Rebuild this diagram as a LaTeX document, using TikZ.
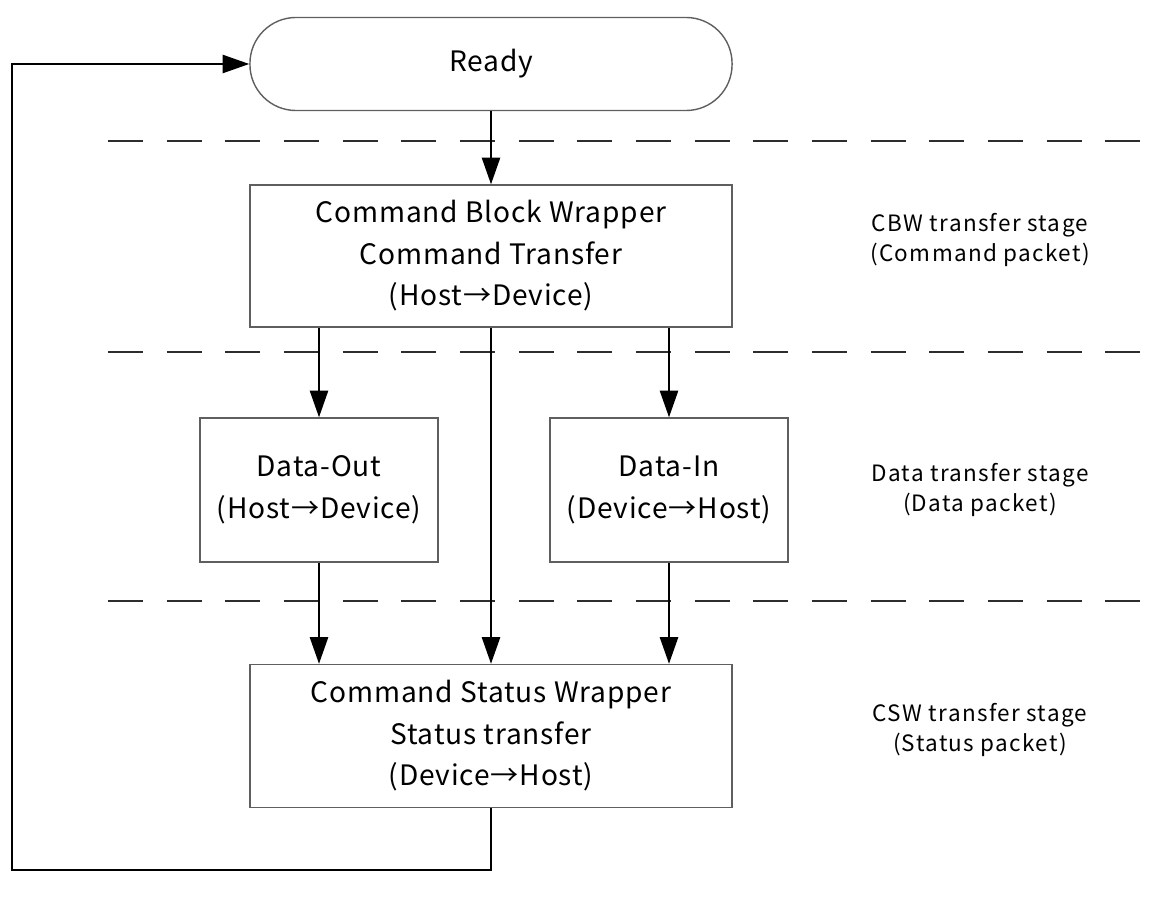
\documentclass[tikz,border=0pt]{standalone}
\usepackage{fontspec}
\setmainfont{Noto Sans CJK JP}
\usetikzlibrary{arrows.meta, positioning}
\definecolor{boxline}{RGB}{95, 95, 95}
\definecolor{stagedash}{RGB}{45, 45, 45}

\begin{document}
\begin{tikzpicture}[x=0.025cm, y=-0.025cm,
    >={Triangle[length=19pt, width=13pt]},
    stagebox/.style={draw=boxline, line width=1pt, align=center,
      inner sep=0pt,
      font=\fontsize{20}{29.5}\selectfont\addfontfeatures{LetterSpace=3}},
    stagenote/.style={align=center,
      font=\fontsize{16}{21.5}\selectfont\addfontfeatures{LetterSpace=6}},
    flow/.style={->, line width=1.3pt},
    stageline/.style={stagedash, line width=1.1pt,
      dash pattern=on 0.875cm off 0.591cm}]
  \useasboundingbox (0,0) rectangle (1154,905);
  % ── Stage separators ──
  \foreach \y in {141, 352, 601}
    \draw[stageline] (108,\y) -- (1140,\y);
  % ── Ready state ──
  \node[stagebox, rounded corners=1.15cm, minimum width=12.05cm,
        minimum height=2.325cm] (ready) at (491,64) {Ready};
  % ── CBW stage ──
  \node[stagebox, minimum width=12.05cm, minimum height=3.55cm]
    (cbw) at (491,256)
    {Command Block Wrapper\\Command Transfer\\(Host→Device)};
  \node[stagenote] (cbwnote) at (980,240)
    {CBW transfer stage\\(Command packet)};
  % ── Data stage ──
  \node[stagebox, minimum width=5.95cm, minimum height=3.6cm]
    (dout) at (319,490) {Data-Out\\(Host→Device)};
  \node[stagebox, minimum width=5.95cm, minimum height=3.6cm]
    (din) at (669,490) {Data-In\\(Device→Host)};
  \node[stagenote] (datanote) at (980,490)
    {Data transfer stage\\(Data packet)};
  % ── CSW stage ──
  \node[stagebox, minimum width=12.05cm, minimum height=3.575cm]
    (csw) at (491,736)
    {Command Status Wrapper\\Status transfer\\(Device→Host)};
  \node[stagenote] (cswnote) at (980,730)
    {CSW transfer stage\\(Status packet)};
  % ── Transitions ──
  \draw[flow] (ready) -- (cbw);
  \draw[flow] (cbw.south -| dout.north) -- (dout.north);
  \draw[flow] (cbw.south -| din.north) -- (din.north);
  \draw[flow] (cbw) -- (csw);
  \draw[flow] (dout) -- (csw.north -| dout.south);
  \draw[flow] (din) -- (csw.north -| din.south);
  % ── Back to Ready ──
  \coordinate (loopcorner) at (12,870);
  \draw[flow] (csw.south) |- (loopcorner) |- (ready.west);
\end{tikzpicture}
\end{document}
